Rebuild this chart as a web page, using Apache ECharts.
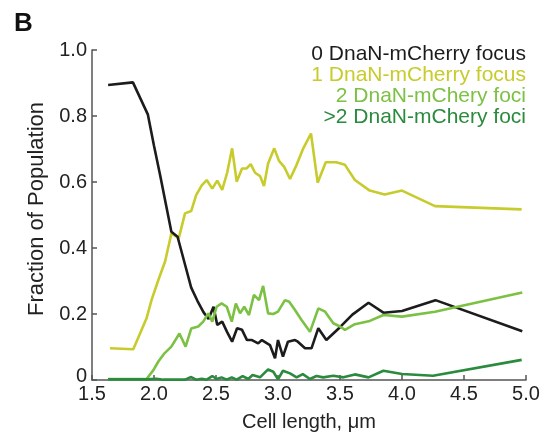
<!DOCTYPE html>
<html>
<head>
<meta charset="utf-8">
<script src="https://cdn.jsdelivr.net/npm/echarts@6/dist/echarts.min.js"></script>
<style>html,body{margin:0;padding:0;background:#fff}#c{width:547px;height:432px}</style>
</head>
<body>
<div id="c"></div>
<script>
var seriesNames = ['0 DnaN-mCherry focus', '1 DnaN-mCherry focus', '2 DnaN-mChery foci', '>2 DnaN-mChery foci'];
var seriesColors = ['#1c1c1c', '#c8cb2c', '#7cc143', '#2a8a3d'];
var xTicks = [1.5, 2.0, 2.5, 3.0, 3.5, 4.0, 4.5, 5.0];
var yTicks = [0, 0.2, 0.4, 0.6, 0.8, 1.0];

var zeroX = [1.63, 1.83, 1.95, 2.0, 2.05, 2.1, 2.14, 2.19, 2.25, 2.3, 2.35, 2.4, 2.44, 2.48, 2.51, 2.55, 2.59, 2.63, 2.67, 2.71, 2.75, 2.79, 2.84, 2.87, 2.935, 2.976, 3.0, 3.04, 3.08, 3.137, 3.16, 3.218, 3.27, 3.325, 3.39, 3.5, 3.6, 3.73, 3.85, 4.0, 4.27, 4.97];
var zeroY = [0.894, 0.902, 0.805, 0.71, 0.62, 0.525, 0.449, 0.434, 0.35, 0.28, 0.24, 0.205, 0.185, 0.222, 0.167, 0.177, 0.145, 0.116, 0.157, 0.152, 0.121, 0.121, 0.111, 0.121, 0.106, 0.066, 0.121, 0.071, 0.116, 0.121, 0.116, 0.096, 0.096, 0.157, 0.121, 0.16, 0.198, 0.234, 0.204, 0.209, 0.242, 0.148];

var oneX = [1.645, 1.833, 1.94, 1.98, 2.035, 2.09, 2.14, 2.2, 2.25, 2.3, 2.34, 2.385, 2.425, 2.47, 2.51, 2.55, 2.59, 2.63, 2.667, 2.71, 2.747, 2.78, 2.815, 2.855, 2.887, 2.92, 2.97, 3.008, 3.05, 3.097, 3.15, 3.204, 3.266, 3.32, 3.385, 3.47, 3.54, 3.62, 3.74, 3.86, 4.0, 4.266, 4.965];
var oneY = [0.096, 0.093, 0.187, 0.242, 0.303, 0.36, 0.444, 0.43, 0.505, 0.512, 0.56, 0.59, 0.606, 0.58, 0.604, 0.576, 0.628, 0.702, 0.601, 0.641, 0.641, 0.654, 0.628, 0.618, 0.588, 0.656, 0.702, 0.664, 0.646, 0.609, 0.652, 0.702, 0.747, 0.598, 0.66, 0.66, 0.652, 0.606, 0.574, 0.562, 0.574, 0.527, 0.517];

var twoX = [1.63, 1.94, 1.995, 2.035, 2.08, 2.14, 2.205, 2.255, 2.3, 2.357, 2.397, 2.438, 2.47, 2.505, 2.545, 2.587, 2.627, 2.66, 2.694, 2.728, 2.766, 2.806, 2.847, 2.88, 2.92, 2.962, 3.0, 3.056, 3.09, 3.137, 3.19, 3.258, 3.325, 3.38, 3.446, 3.5, 3.54, 3.62, 3.74, 3.85, 4.0, 4.266, 4.97];
var twoY = [0.003, 0.003, 0.03, 0.056, 0.079, 0.101, 0.141, 0.101, 0.156, 0.162, 0.177, 0.202, 0.177, 0.222, 0.232, 0.222, 0.177, 0.232, 0.202, 0.222, 0.197, 0.258, 0.242, 0.285, 0.202, 0.2, 0.207, 0.242, 0.237, 0.212, 0.182, 0.146, 0.217, 0.207, 0.172, 0.162, 0.152, 0.169, 0.179, 0.197, 0.192, 0.207, 0.265];

var moreX = [1.63, 1.94, 2.02, 2.075, 2.25, 2.3, 2.34, 2.385, 2.425, 2.47, 2.505, 2.545, 2.585, 2.627, 2.667, 2.715, 2.76, 2.795, 2.855, 2.92, 2.962, 3.0, 3.04, 3.097, 3.15, 3.2, 3.258, 3.31, 3.365, 3.446, 3.527, 3.62, 3.73, 3.85, 4.0, 4.25, 4.965];
var moreY = [0.002, 0.002, 0.004, 0.001, 0.001, 0.009, 0.001, 0.004, 0.001, 0.012, 0.003, 0.008, 0.001, 0.008, 0.001, 0.012, 0.003, 0.015, 0.008, 0.032, 0.025, 0.002, 0.028, 0.02, 0.008, 0.018, 0.003, 0.012, 0.008, 0.013, 0.008, 0.017, 0.008, 0.028, 0.018, 0.013, 0.061];

function pairs(xs, ys) { return xs.map(function (x, i) { return [x, ys[i]]; }); }

var FONT = 'Liberation Sans, Arial, Helvetica, sans-serif';
var chart = echarts.init(document.getElementById('c'), null, { renderer: 'canvas' });

var allData = [pairs(zeroX, zeroY), pairs(oneX, oneY), pairs(twoX, twoY), pairs(moreX, moreY)];
var drawOrder = [1, 0, 2, 3];

chart.setOption({
  animation: false,
  backgroundColor: '#fff',
  title: {
    text: 'B', left: 9, top: 6,
    textStyle: { fontFamily: FONT, fontSize: 26, fontWeight: 'bold', color: '#111' }
  },
  legend: {
    orient: 'vertical', right: 11, top: 39, align: 'right',
    icon: 'none', itemWidth: 0, itemHeight: 10, itemGap: 0,
    selectedMode: false,
    textStyle: { fontFamily: FONT, fontSize: 21, lineHeight: 21 },
    data: seriesNames.map(function (n, i) { return { name: n, textStyle: { color: seriesColors[i] } }; })
  },
  grid: { left: 92, right: 21, top: 50, bottom: 52, containLabel: false, outerBoundsMode: 'none' },
  xAxis: {
    type: 'value', min: xTicks[0], max: xTicks[xTicks.length - 1], interval: 0.5,
    name: 'Cell length, μm', nameLocation: 'middle', nameGap: 32,
    nameTextStyle: { fontFamily: FONT, fontSize: 20, color: '#222' },
    axisLine: { lineStyle: { color: '#555', width: 1.5 } },
    axisTick: { inside: true, length: 5, lineStyle: { color: '#555', width: 1.5 } },
    axisLabel: { fontFamily: FONT, fontSize: 20, color: '#222', margin: 4,
      formatter: function (v) { return v.toFixed(1); } },
    splitLine: { show: false }
  },
  yAxis: {
    type: 'value', min: yTicks[0], max: yTicks[yTicks.length - 1], interval: 0.2,
    name: 'Fraction of Population', nameLocation: 'middle', nameGap: 40,
    nameTextStyle: { fontFamily: FONT, fontSize: 22, color: '#222', padding: [0, 0, 0, 12] },
    axisLine: { lineStyle: { color: '#555', width: 1.5 } },
    axisTick: { inside: true, length: 5, lineStyle: { color: '#555', width: 1.5 } },
    axisLabel: { fontFamily: FONT, fontSize: 20, color: '#222', margin: 5,
      formatter: function (v) { return v === 0 ? '{z|0}' : v.toFixed(1); },
      rich: { z: { fontFamily: FONT, fontSize: 20, color: '#222', padding: [0, 0, 7, 0] } } },
    splitLine: { show: false }
  },
  series: drawOrder.map(function (i, k) {
    return {
      name: seriesNames[i], type: 'line', data: allData[i], z: 2 + k,
      showSymbol: false, symbol: 'none', smooth: false,
      lineStyle: { color: seriesColors[i], width: 2.6 },
      itemStyle: { color: seriesColors[i] }
    };
  })
});
</script>
</body>
</html>
